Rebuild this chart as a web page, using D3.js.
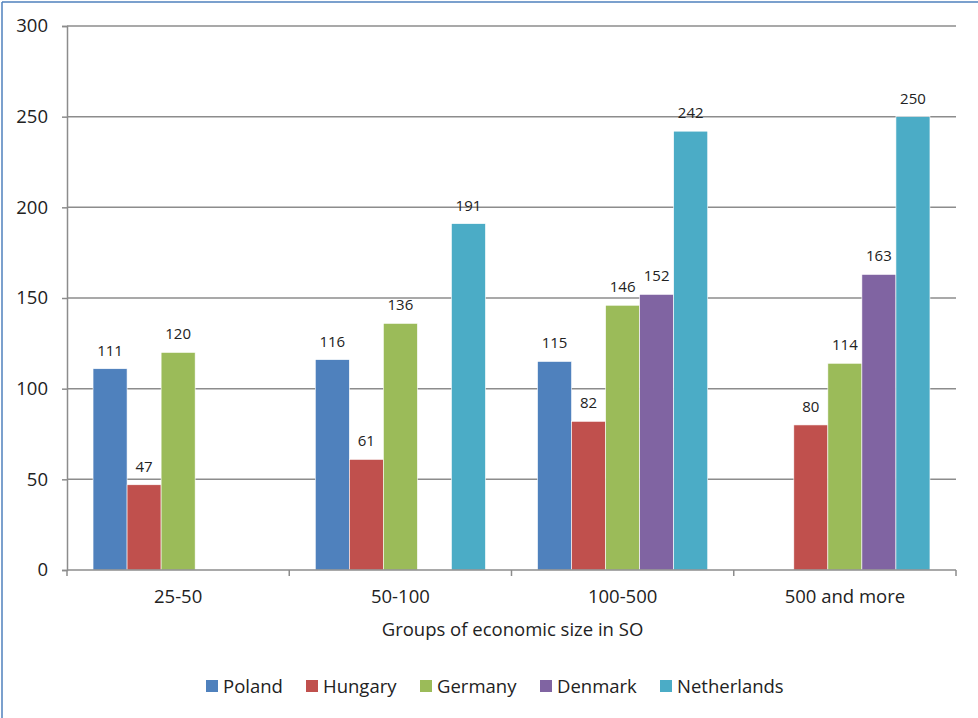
<!DOCTYPE html>
<html>
<head>
<meta charset="utf-8">
<script src="https://cdn.jsdelivr.net/npm/d3@7"></script>
<style>
  html, body { margin: 0; padding: 0; background: #fff; }
  svg { display: block; font-family: "Open Sans", "Noto Sans", sans-serif; }
</style>
</head>
<body>
<svg id="chart" width="978" height="718"></svg>
<script>
// Size groups of farms (economic size in SO)
const categories = ["25-50", "50-100", "100-500", "500 and more"];
const seriesNames = ["Poland", "Hungary", "Germany", "Denmark", "Netherlands"];
const seriesColors = ["#4F81BD", "#C0504D", "#9BBB59", "#8064A2", "#4BACC6"];

// Values per country, one entry per size group (null = no data)
const poland      = [111, 116, 115, null];
const hungary     = [47, 61, 82, 80];
const germany     = [120, 136, 146, 114];
const denmark     = [null, null, 152, 163];
const netherlands = [null, 191, 242, 250];

const yTicks = [0, 50, 100, 150, 200, 250, 300];
const xAxisTitle = "Groups of economic size in SO";

const seriesValues = [poland, hungary, germany, denmark, netherlands];

const svg = d3.select("#chart");
const W = 978, H = 718;
const plot = { left: 67, right: 956, top: 26, bottom: 570 };
const textColor = "#222";
const axisColor = "#8c8c8c";

// Outer frame (left and top edges)
svg.append("line").attr("x1", 2).attr("x2", 2).attr("y1", 2).attr("y2", H)
  .attr("stroke", "#4F81BD").attr("stroke-width", 1.5);
svg.append("line").attr("x1", 2).attr("x2", W).attr("y1", 2).attr("y2", 2)
  .attr("stroke", "#4F81BD").attr("stroke-width", 1.5);

const x0 = d3.scaleBand().domain(categories).range([plot.left, plot.right]).paddingInner(0).paddingOuter(0);
const x1 = d3.scaleBand().domain(seriesNames).range([0, x0.bandwidth()]).paddingOuter(0.765).paddingInner(0);
const y = d3.scaleLinear().domain([0, 300]).range([plot.bottom, plot.top]);

// Horizontal gridlines
svg.append("g").selectAll("line").data(yTicks.filter(d => d > 0)).join("line")
  .attr("x1", plot.left).attr("x2", plot.right)
  .attr("y1", d => y(d)).attr("y2", d => y(d))
  .attr("stroke", axisColor).attr("stroke-width", 1.5);

// Bars with value labels
const groups = svg.append("g").selectAll("g").data(categories).join("g")
  .attr("transform", d => `translate(${x0(d)},0)`);

groups.each(function (cat, ci) {
  const g = d3.select(this);
  const rows = seriesNames.map((s, si) => ({ s, si, v: seriesValues[si][ci] }))
    .filter(r => r.v !== null);
  g.selectAll("rect").data(rows).join("rect")
    .attr("x", r => x1(r.s))
    .attr("width", x1.bandwidth())
    .attr("y", r => y(r.v))
    .attr("height", r => y(0) - y(r.v))
    .attr("fill", r => seriesColors[r.si])
    .attr("stroke", "#fff").attr("stroke-width", 0.6);
  g.selectAll("text").data(rows).join("text")
    .attr("x", r => x1(r.s) + x1.bandwidth() / 2)
    .attr("y", r => y(r.v) - 13)
    .attr("text-anchor", "middle")
    .attr("font-size", 15)
    .attr("fill", textColor)
    .text(r => r.v);
});

// Y axis
const yAxis = d3.axisLeft(y).tickValues(yTicks).tickSize(5).tickPadding(14);
const gy = svg.append("g").attr("transform", `translate(${plot.left},0)`).call(yAxis);
gy.select(".domain").attr("stroke", axisColor).attr("stroke-width", 1.5);
gy.selectAll(".tick line").attr("stroke", axisColor).attr("stroke-width", 1.5);
gy.selectAll(".tick text").attr("font-size", 18.5).attr("fill", textColor)
  .attr("font-family", "'Open Sans', sans-serif");

// X axis: baseline, boundary ticks, category labels
const boundaries = categories.map(c => x0(c)).concat([plot.right]);
svg.append("line").attr("x1", plot.left).attr("x2", plot.right)
  .attr("y1", plot.bottom).attr("y2", plot.bottom)
  .attr("stroke", axisColor).attr("stroke-width", 1.5);
svg.append("g").selectAll("line").data(boundaries).join("line")
  .attr("x1", d => d).attr("x2", d => d)
  .attr("y1", plot.bottom).attr("y2", plot.bottom + 6)
  .attr("stroke", axisColor).attr("stroke-width", 1.5);
svg.append("g").selectAll("text").data(categories).join("text")
  .attr("x", d => x0(d) + x0.bandwidth() / 2)
  .attr("y", 603)
  .attr("text-anchor", "middle")
  .attr("font-size", 18.5).attr("fill", textColor)
  .text(d => d);

svg.append("text").attr("x", (plot.left + plot.right) / 2 + 1).attr("y", 636)
  .attr("text-anchor", "middle").attr("font-size", 18.5).attr("fill", textColor)
  .text(xAxisTitle);

// Legend
const legendX = [206, 306, 420, 540, 660];
const legend = svg.append("g").selectAll("g").data(seriesNames).join("g")
  .attr("transform", (d, i) => `translate(${legendX[i]},680)`);
legend.append("rect").attr("width", 12).attr("height", 12)
  .attr("fill", (d, i) => seriesColors[i]);
legend.append("text").attr("x", 17).attr("y", 13)
  .attr("font-size", 18.5).attr("fill", textColor).text(d => d);
</script>
</body>
</html>
